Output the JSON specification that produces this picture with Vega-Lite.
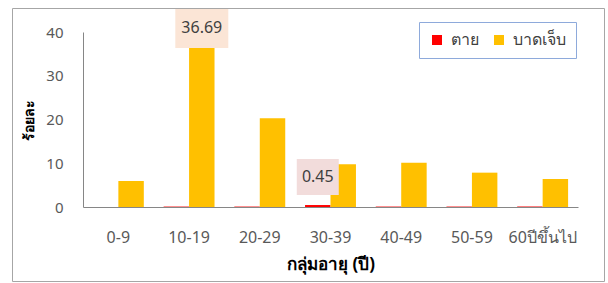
{
  "$schema": "https://vega.github.io/schema/vega-lite/v6.json",
  "width": 592,
  "height": 273,
  "autosize": {"type": "none"},
  "padding": {"left": 12, "top": 8, "right": 4, "bottom": 2},
  "background": "#ffffff",
  "config": {
    "view": {"stroke": "#a6a6a6", "strokeWidth": 1},
    "font": "Noto Sans"
  },
  "data": {
    "values": [
      {"group": "0-9", "series": "ตาย", "value": 0},
      {"group": "0-9", "series": "บาดเจ็บ", "value": 5.95},
      {"group": "10-19", "series": "ตาย", "value": 0.1},
      {"group": "10-19", "series": "บาดเจ็บ", "value": 36.69},
      {"group": "20-29", "series": "ตาย", "value": 0.1},
      {"group": "20-29", "series": "บาดเจ็บ", "value": 20.3},
      {"group": "30-39", "series": "ตาย", "value": 0.45},
      {"group": "30-39", "series": "บาดเจ็บ", "value": 9.8},
      {"group": "40-49", "series": "ตาย", "value": 0.1},
      {"group": "40-49", "series": "บาดเจ็บ", "value": 10.1},
      {"group": "50-59", "series": "ตาย", "value": 0.1},
      {"group": "50-59", "series": "บาดเจ็บ", "value": 7.85},
      {"group": "60ปีขึ้นไป", "series": "ตาย", "value": 0.1},
      {"group": "60ปีขึ้นไป", "series": "บาดเจ็บ", "value": 6.4}
    ]
  },
  "encoding": {
    "x": {
      "field": "group",
      "type": "nominal",
      "sort": null,
      "scale": {"range": [71, 566], "paddingInner": 0.28, "paddingOuter": 0.14},
      "axis": {
        "title": "กลุ่มอายุ (ปี)",
        "offset": -74,
        "labelAngle": 0,
        "ticks": false,
        "grid": false,
        "domainColor": "#868686",
        "labelPadding": 22,
        "labelFontSize": 16,
        "labelColor": "#595959",
        "titleFontSize": 17,
        "titleFontWeight": "bold",
        "titleColor": "#000000",
        "titlePadding": 11
      }
    },
    "xOffset": {"field": "series", "sort": ["ตาย", "บาดเจ็บ"]},
    "y": {
      "field": "value",
      "type": "quantitative",
      "scale": {"domain": [0, 40], "range": [199, 24], "nice": false},
      "axis": {
        "title": "ร้อยละ",
        "offset": -71,
        "values": [0, 10, 20, 30, 40],
        "ticks": false,
        "grid": false,
        "domainColor": "#868686",
        "labelPadding": 20,
        "labelFontSize": 15,
        "labelColor": "#595959",
        "titleFontSize": 14,
        "titleFontWeight": "bold",
        "titleColor": "#000000",
        "titlePadding": 9
      }
    }
  },
  "layer": [
    {
      "mark": {"type": "bar"},
      "encoding": {
        "color": {
          "field": "series",
          "type": "nominal",
          "sort": ["ตาย", "บาดเจ็บ"],
          "scale": {"domain": ["ตาย", "บาดเจ็บ"], "range": ["#ff0000", "#ffc000"]},
          "legend": {
            "title": null,
            "orient": "none",
            "legendX": 407,
            "legendY": 14,
            "direction": "horizontal",
            "strokeColor": "#8eaadb",
            "fillColor": "#ffffff",
            "padding": 10,
            "symbolType": "square",
            "symbolSize": 100,
            "symbolStrokeWidth": 0,
            "labelFontSize": 16,
            "labelColor": "#404040",
            "columnPadding": 12,
            "labelOffset": 6
          }
        }
      }
    },
    {
      "transform": [{"filter": {"field": "value", "equal": 36.69}}],
      "mark": {"type": "point", "shape": "M-1,-0.736H1V0.736H-1Z", "size": 2809, "filled": true, "fill": "#fbe5d6", "opacity": 1, "strokeWidth": 0, "yOffset": -18}
    },
    {
      "transform": [{"filter": {"field": "value", "equal": 0.45}}],
      "mark": {"type": "point", "shape": "M-1,-0.857H1V0.857H-1Z", "size": 1764, "filled": true, "fill": "#f2dcdb", "opacity": 1, "strokeWidth": 0, "yOffset": -28}
    },
    {
      "transform": [{"filter": {"field": "value", "equal": 36.69}}],
      "mark": {"type": "text", "fontSize": 16, "color": "#404040", "baseline": "middle", "yOffset": -18},
      "encoding": {"text": {"field": "value", "type": "quantitative", "format": ".2f"}}
    },
    {
      "transform": [{"filter": {"field": "value", "equal": 0.45}}],
      "mark": {"type": "text", "fontSize": 16, "color": "#404040", "baseline": "middle", "yOffset": -28},
      "encoding": {"text": {"field": "value", "type": "quantitative", "format": ".2f"}}
    }
  ]
}
